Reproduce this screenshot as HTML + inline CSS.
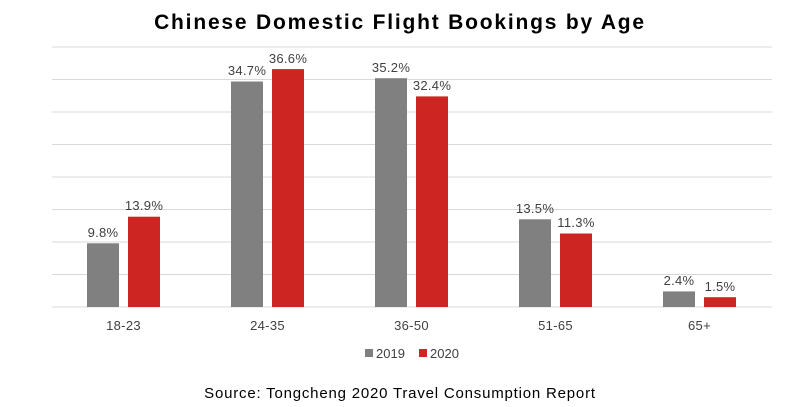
<!DOCTYPE html>
<html><head><meta charset="utf-8"><style>
body{margin:0;background:#fff;}
svg{display:block;font-family:"Liberation Sans",sans-serif;}
</style></head><body>
<svg width="800" height="407" viewBox="0 0 800 407">
<rect width="800" height="407" fill="#fff"/>
<text x="400" y="29" text-anchor="middle" font-size="21" font-weight="bold" fill="#000" letter-spacing="1.8">Chinese Domestic Flight Bookings by Age</text>
<g stroke="#d9d9d9" stroke-width="1">
<line x1="52" x2="772" y1="47" y2="47"/><line x1="52" x2="772" y1="79.5" y2="79.5"/>
<line x1="52" x2="772" y1="112" y2="112"/><line x1="52" x2="772" y1="144.5" y2="144.5"/>
<line x1="52" x2="772" y1="177" y2="177"/><line x1="52" x2="772" y1="209.5" y2="209.5"/>
<line x1="52" x2="772" y1="242" y2="242"/><line x1="52" x2="772" y1="274.5" y2="274.5"/>
<line x1="52" x2="772" y1="307" y2="307"/>
</g>
<g font-size="13" fill="#404040" text-anchor="middle" letter-spacing="0.3">
<rect x="87" y="243.3" width="32" height="63.7" fill="#808080"/>
<rect x="128" y="216.7" width="32" height="90.3" fill="#cc2522"/>
<text x="103" y="237">9.8%</text><text x="144" y="210">13.9%</text>
<text x="123.5" y="330">18-23</text>
<rect x="231" y="81.5" width="32" height="225.5" fill="#808080"/>
<rect x="272" y="69.1" width="32" height="237.9" fill="#cc2522"/>
<text x="247" y="75">34.7%</text><text x="288" y="63">36.6%</text>
<text x="267.5" y="330">24-35</text>
<rect x="375" y="78.2" width="32" height="228.8" fill="#808080"/>
<rect x="416" y="96.4" width="32" height="210.6" fill="#cc2522"/>
<text x="391" y="72">35.2%</text><text x="432" y="90">32.4%</text>
<text x="411.5" y="330">36-50</text>
<rect x="519" y="219.3" width="32" height="87.7" fill="#808080"/>
<rect x="560" y="233.5" width="32" height="73.5" fill="#cc2522"/>
<text x="535" y="213">13.5%</text><text x="576" y="227">11.3%</text>
<text x="555.5" y="330">51-65</text>
<rect x="663" y="291.4" width="32" height="15.6" fill="#808080"/>
<rect x="704" y="297.2" width="32" height="9.8" fill="#cc2522"/>
<text x="679" y="285">2.4%</text><text x="720" y="291">1.5%</text>
<text x="699.5" y="330">65+</text>
</g>
<rect x="365" y="349" width="8" height="8" fill="#808080"/>
<text x="376" y="358" font-size="13" fill="#404040">2019</text>
<rect x="419" y="349" width="8" height="8" fill="#cc2522"/>
<text x="430" y="358" font-size="13" fill="#404040">2020</text>
<text x="400" y="398" text-anchor="middle" font-size="15" fill="#000" letter-spacing="0.8">Source: Tongcheng 2020 Travel Consumption Report</text>
</svg>
</body></html>
